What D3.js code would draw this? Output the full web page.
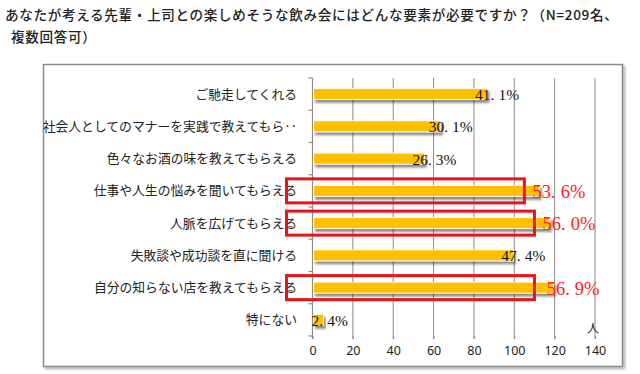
<!DOCTYPE html>
<html><head><meta charset="utf-8">
<script src="https://cdn.jsdelivr.net/npm/d3@7"></script>
<style>
html,body{margin:0;padding:0;background:#fff;}
svg{display:block;}
</style></head>
<body>
<svg id="chart" width="640" height="374"></svg>
<script>
const titleLines = ["あなたが考える先輩・上司との楽しめそうな飲み会にはどんな要素が必要ですか？（N=209名、", "複数回答可）"];
const categories = ["ご馳走してくれる","社会人としてのマナーを実践で教えてもら‥","色々なお酒の味を教えてもらえる","仕事や人生の悩みを聞いてもらえる","人脈を広げてもらえる","失敗談や成功談を直に聞ける","自分の知らない店を教えてもらえる","特にない"];
const counts = [86, 63, 55, 112, 117, 99, 119, 5];
const pctLabels = ["41.1%","30.1%","26.3%","53.6%","56.0%","47.4%","56.9%","2.4%"];
const highlighted = [false,false,false,true,true,false,true,false];
const highlightBoxEnd = [null,null,null,105,110,null,110,null];
const xTicks = [0,20,40,60,80,100,120,140];
const unitLabel = "人";

const svg = d3.select("#chart");
const x = d3.scaleLinear().domain([0,140]).range([312.5,595]);
const y = d3.scaleBand().domain(categories).range([78,336]).paddingInner(0.66).paddingOuter(0.33);

const defs = svg.append("defs");
const f = defs.append("filter").attr("id","sh").attr("x","-10%").attr("y","-50%").attr("width","130%").attr("height","250%");
f.append("feGaussianBlur").attr("in","SourceAlpha").attr("stdDeviation",1.2).attr("result","b");
f.append("feOffset").attr("in","b").attr("dx",2).attr("dy",2.5).attr("result","o");
f.append("feComponentTransfer").attr("in","o").attr("result","o2").append("feFuncA").attr("type","linear").attr("slope",0.45);
const m = f.append("feMerge"); m.append("feMergeNode").attr("in","o2"); m.append("feMergeNode").attr("in","SourceGraphic");

const fs = defs.append("filter").attr("id","boxsh").attr("x","-5%").attr("y","-5%").attr("width","110%").attr("height","110%");
fs.append("feGaussianBlur").attr("in","SourceAlpha").attr("stdDeviation",1).attr("result","b");
fs.append("feOffset").attr("in","b").attr("dx",2).attr("dy",2).attr("result","o");
fs.append("feComponentTransfer").attr("in","o").attr("result","o2").append("feFuncA").attr("type","linear").attr("slope",0.3);
const m2 = fs.append("feMerge"); m2.append("feMergeNode").attr("in","o2"); m2.append("feMergeNode").attr("in","SourceGraphic");

// title
svg.append("g").selectAll("text").data(titleLines).join("text")
  .attr("x",(d,i)=> i===0?5:11).attr("y",(d,i)=>20+i*22)
  .attr("font-family","'Noto Sans CJK JP','Noto Sans',sans-serif")
  .attr("font-size",13.6).attr("font-weight",500).attr("fill","#222")
  .attr("letter-spacing",0.65)
  .text(d=>d);

// outer frame
svg.append("rect").attr("x",43.5).attr("y",64.5).attr("width",579).attr("height",302)
  .attr("fill","#fff").attr("stroke","#8a8a8a").attr("stroke-width",1.5).attr("filter","url(#boxsh)");

// gridlines
svg.append("g").selectAll("line").data(xTicks.slice(1)).join("line")
  .attr("x1",d=>x(d)).attr("x2",d=>x(d)).attr("y1",78).attr("y2",339)
  .attr("stroke","#8c8c8c").attr("stroke-width",1);

// x tick labels
const xa = svg.append("g").attr("transform","translate(0,336)")
  .call(d3.axisBottom(x).tickValues(xTicks).tickSize(3).tickPadding(7).tickFormat(d3.format("d")));
xa.select(".domain").remove();
xa.selectAll("line").attr("stroke","#8c8c8c");
xa.selectAll("text").attr("font-family","'Noto Sans','DejaVu Sans',sans-serif").attr("font-size",12.5).attr("fill","#222");

svg.append("text").attr("x",x(140)-8).attr("y",333).attr("font-family","'Noto Sans CJK JP',sans-serif")
  .attr("font-size",12).attr("fill","#222").text(unitLabel);

// y axis
const step = y.step();
const bounds = categories.map(c => y(c) - step*y.paddingInner()/2).concat([y(categories[categories.length-1]) + y.bandwidth() + step*y.paddingInner()/2]);
svg.append("line").attr("x1",x(0)).attr("x2",x(0)).attr("y1",bounds[0]).attr("y2",bounds[bounds.length-1]+3)
  .attr("stroke","#8c8c8c").attr("stroke-width",1.2);
svg.append("g").selectAll("line").data(bounds).join("line")
  .attr("x1",x(0)-4).attr("x2",x(0)).attr("y1",d=>d).attr("y2",d=>d)
  .attr("stroke","#8c8c8c").attr("stroke-width",1.2);

// category labels
svg.append("g").selectAll("text").data(categories).join("text")
  .attr("x",297).attr("y",d=>y(d)+y.bandwidth()/2).attr("dy","0.36em")
  .attr("text-anchor","end")
  .attr("font-family","'Noto Sans CJK JP',sans-serif").attr("font-size",12.8).attr("fill","#222")
  .text(d=>d);

// bars
svg.append("g").selectAll("rect").data(counts).join("rect")
  .attr("x",x(0)+1).attr("y",(d,i)=>y(categories[i]))
  .attr("width",d=>x(d)-x(0)).attr("height",y.bandwidth())
  .attr("fill","#FFC000").attr("stroke","#fff").attr("stroke-width",0.8)
  .attr("filter","url(#sh)");

// value labels
const vl = svg.append("g").selectAll("text").data(counts).join("text")
  .attr("x",(d,i)=>x(d)-(highlighted[i]?6:11))
  .attr("y",(d,i)=>y(categories[i])+y.bandwidth()/2).attr("dy","0.38em")
  .attr("font-family","'Liberation Serif','DejaVu Serif',serif")
  .attr("font-size",(d,i)=>highlighted[i]?18.5:15.5)
  .attr("fill",(d,i)=>highlighted[i]?"#ff1a1a":"#111");
vl.each(function(d,i){
  const parts = pctLabels[i].split(".");
  const t = d3.select(this);
  t.append("tspan").text(parts[0] + ".");
  t.append("tspan").attr("dx", highlighted[i]?5:4).text(parts[1]);
});

// highlight boxes
const hl = categories.map((c,i)=>({c,i})).filter(o=>highlighted[o.i]);
svg.append("g").selectAll("rect").data(hl).join("rect")
  .attr("x",286.5).attr("y",o=>y(o.c)+y.bandwidth()/2-12)
  .attr("width",o=>x(highlightBoxEnd[o.i])-286.5).attr("height",24)
  .attr("fill","none").attr("stroke","#e8141b").attr("stroke-width",3);
</script>
</body></html>
